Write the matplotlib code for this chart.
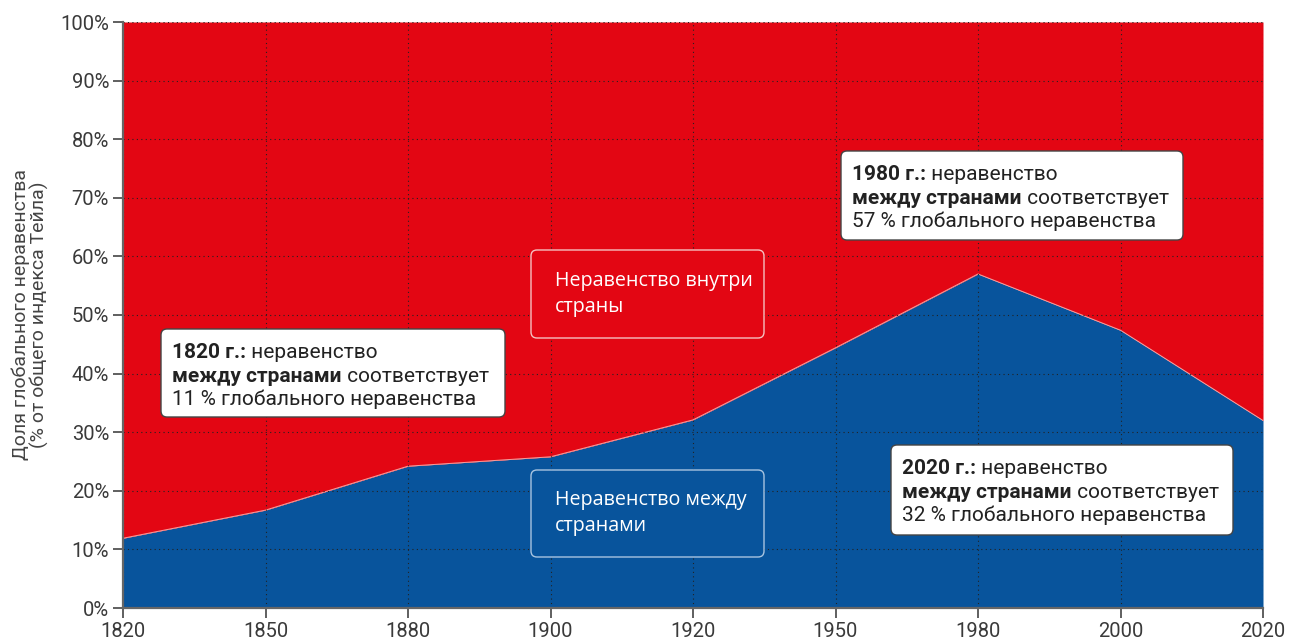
import matplotlib
matplotlib.use("Agg")
import matplotlib.pyplot as plt
from matplotlib.patches import FancyBboxPatch
from matplotlib.transforms import IdentityTransform

years = ["1820", "1850", "1880", "1900", "1920", "1950", "1980", "2000", "2020"]
between = [11.9, 16.7, 24.2, 25.8, 32.1, 44.4, 57.0, 47.4, 32.0]
y_ticks = [0, 10, 20, 30, 40, 50, 60, 70, 80, 90, 100]

RED = "#e30613"
BLUE = "#08549c"
GRAY = "#666666"
TXT = "#3a3a3a"
W, H = 1296, 641
BOXFONT = ["Roboto", "DejaVu Sans"]
TICKFONT = ["Roboto", "DejaVu Sans"]

fig = plt.figure(figsize=(W / 100, H / 100), dpi=100)
ax = fig.add_axes([123 / W, 33 / H, 1140 / W, 586 / H])

x = list(range(len(years)))
ax.fill_between(x, 0, between, color=BLUE, lw=0, zorder=1)
ax.fill_between(x, between, 100, color=RED, lw=0, zorder=1)
ax.plot(x, between, color="#f4a0a0", lw=0.7, zorder=1.2)

ax.set_xlim(0, len(years) - 1)
ax.set_ylim(0, 100)
ax.set_xticks(x)
ax.set_xticklabels(years)
ax.set_yticks(y_ticks)
ax.set_yticklabels([f"{v}%" for v in y_ticks])
ax.grid(True, color="#222222", ls=(0, (1, 3)), lw=0.8, zorder=1.5)
for s in ["top", "right"]:
    ax.spines[s].set_visible(False)
for s in ["left", "bottom"]:
    ax.spines[s].set_color(GRAY)
    ax.spines[s].set_linewidth(1.6)
ax.tick_params(direction="out", length=7, width=1.2, color="#444444",
               labelsize=14.5, labelcolor=TXT, pad=3)
for lab in ax.get_xticklabels() + ax.get_yticklabels():
    lab.set_family(TICKFONT)
ax.set_ylabel("Доля глобального неравенства\n(% от общего индекса Тейла)",
              fontsize=14, color="#444444", family=TICKFONT,
              linespacing=1.0, labelpad=8)

ident = IdentityTransform()


def box(x0, y0, x1, y1, face, edge, lw):
    p = FancyBboxPatch((x0, H - y1), x1 - x0, y1 - y0,
                       boxstyle="round,pad=0,rounding_size=6",
                       transform=ident, facecolor=face, edgecolor=edge,
                       lw=lw, zorder=5)
    fig.add_artist(p)


def rich_box(x0, y0, x1, y1, lines):
    box(x0, y0, x1, y1, "white", "#444444", 1.0)
    for i, parts in enumerate(lines):
        prev = None
        for txt, bold in parts:
            kw = dict(fontsize=15, color="#222222", zorder=6,
                      family=BOXFONT,
                      weight="bold" if bold else "normal",
                      ha="left", va="bottom")
            if prev is None:
                prev = fig.text(x0 + 11, H - (y0 + 33 + i * 23.5), txt,
                                transform=ident, **kw)
            else:
                prev = fig.add_artist(plt.Annotation(txt, xy=(1, 0), xycoords=prev, **kw))


def lines_for(year, pct):
    return [
        [(f"{year} г.:", True), (" неравенство", False)],
        [("между странами", True), (" соответствует", False)],
        [(f"{pct} % глобального неравенства", False)],
    ]


rich_box(161, 329, 505, 417, lines_for("1820", 11))
rich_box(841, 151, 1183, 240, lines_for("1980", 57))
rich_box(891, 445, 1233, 535, lines_for("2020", 32))

box(531, 250, 764, 338, RED, "#f5c0c0", 1.0)
fig.text(555, H - 294, "Неравенство внутри\nстраны", transform=ident,
         fontsize=14.2, color="white", family=["Open Sans", "DejaVu Sans"],
         ha="left", va="center", linespacing=1.45, zorder=6)
box(531, 470, 764, 557, BLUE, "#a8c4e0", 1.0)
fig.text(555, H - 513, "Неравенство между\nстранами", transform=ident,
         fontsize=14.2, color="white", family=["Open Sans", "DejaVu Sans"],
         ha="left", va="center", linespacing=1.45, zorder=6)

fig.savefig("out.png", dpi=100)
